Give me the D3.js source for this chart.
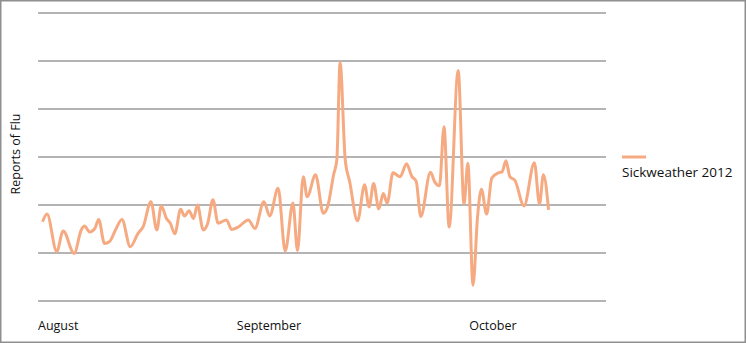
<!DOCTYPE html>
<html>
<head>
<meta charset="utf-8">
<script src="https://cdn.jsdelivr.net/npm/d3@7"></script>
<style>
  body { margin: 0; background: #fff; }
  text { font-family: "Open Sans", sans-serif; fill: #111; }
</style>
</head>
<body>
<svg id="chart" width="746" height="343"></svg>
<script>
// day offset from Aug 1, reports of flu
let days = [0.7, 1.4, 2.9, 3.9, 5.6, 6.7, 7.2, 8.0, 8.8, 9.4, 10.3, 11.1, 12.0, 13.0, 14.3, 15.5,
    16.3, 17.5, 18.4, 19.1, 19.9, 20.5, 21.2, 22.1, 22.7, 23.4, 24.1, 24.7, 25.6, 26.3, 27.1, 27.9,
    29.2, 30.0, 31.0, 32.6, 33.6, 35.0, 35.9, 37.2, 38.3, 39.5, 40.2, 41.1, 41.7, 43.0, 44.2, 44.9,
    45.8, 46.3, 46.8, 47.6, 48.3, 49.5, 50.6, 51.3, 52.0, 52.8, 53.5, 54.1, 55.0, 56.1, 57.1, 57.9,
    58.6, 59.3, 60.8, 61.5, 62.2, 62.9, 63.7, 65.1, 66.0, 66.6, 67.4, 68.1, 68.7, 69.5, 70.3, 71.3,
    71.9, 72.5, 73.1, 73.9, 75.3, 76.9, 77.7, 78.3, 79.1]
let reports = [16.5, 18.1, 10.3, 14.6, 9.9, 14.8, 15.6, 14.4, 15.1, 17.0, 12.0, 12.4, 14.8, 17.0, 11.3, 14.1,
    15.5, 20.7, 14.8, 19.8, 17.2, 16.2, 14.0, 19.1, 17.7, 18.8, 17.2, 20.0, 14.8, 16.2, 21.1, 16.2,
    16.9, 14.9, 15.4, 16.9, 15.1, 20.7, 17.7, 23.5, 10.4, 20.4, 10.5, 25.9, 21.7, 26.3, 18.3, 19.8,
    26.3, 29.4, 49.7, 29.4, 24.8, 16.7, 24.2, 19.6, 24.5, 19.2, 22.4, 20.4, 26.7, 25.9, 28.6, 26.0,
    24.9, 17.6, 26.8, 24.7, 24.0, 36.3, 15.4, 48.0, 20.2, 28.7, 3.3, 17.6, 23.3, 18.1, 25.6, 26.7,
    26.9, 29.2, 25.9, 25.1, 19.8, 28.8, 20.2, 26.3, 19.0]

let month_labels = ['August', 'September', 'October']
let month_days = [0, 30.8, 66.8]
let y_ticks = [0, 10, 20, 30, 40, 50, 60]
let series_name = 'Sickweather 2012'

let line_color = '#f6aa82'

let width = 746
let height = 343
let plot = {left: 38, right: 606, top: 13, bottom: 301}

let svg = d3.select('#chart')

// outer frame
svg.append('rect')
    .attr('x', 0.75).attr('y', 0.75)
    .attr('width', width - 1.5).attr('height', height - 1.5)
    .attr('fill', 'none')
    .attr('stroke', '#8f8f8f')
    .attr('stroke-width', 1.5)

let x = d3.scaleLinear().domain([0, 88]).range([plot.left, plot.right])
let y = d3.scaleLinear().domain([0, 60]).range([plot.bottom, plot.top])

// gridlines
svg.append('g')
    .selectAll('line')
    .data(y_ticks)
    .join('line')
    .attr('x1', plot.left).attr('x2', plot.right)
    .attr('y1', d => y(d)).attr('y2', d => y(d))
    .attr('stroke', '#9b9b9b')
    .attr('stroke-width', 1.5)

// month labels
svg.append('g')
    .selectAll('text')
    .data(month_labels)
    .join('text')
    .attr('x', (d, i) => x(month_days[i]))
    .attr('y', 330)
    .attr('font-size', 12.5)
    .text(d => d)

// y axis title
svg.append('text')
    .attr('transform', `translate(20, 154) rotate(-90)`)
    .attr('text-anchor', 'middle')
    .attr('font-size', 12.5)
    .text('Reports of Flu')

let points = days.map((d, i) => ({day: d, value: reports[i]}))

let line = d3.line()
    .x(d => x(d.day))
    .y(d => y(d.value))
    .curve(d3.curveMonotoneX)

svg.append('path')
    .datum(points)
    .attr('d', line)
    .attr('fill', 'none')
    .attr('stroke', line_color)
    .attr('stroke-width', 3)
    .attr('stroke-linejoin', 'round')

// legend
let legend = svg.append('g').attr('transform', 'translate(622, 157)')
legend.append('line')
    .attr('x1', 0).attr('x2', 24)
    .attr('stroke', line_color)
    .attr('stroke-width', 3)
legend.append('text')
    .attr('x', 0).attr('y', 20)
    .attr('font-size', 13.5)
    .text(series_name)
</script>
</body>
</html>
